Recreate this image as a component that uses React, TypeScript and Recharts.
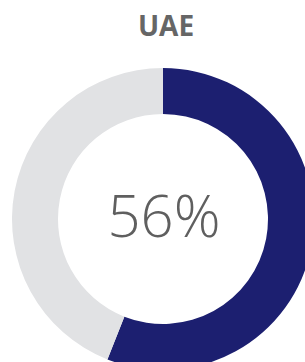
import { PieChart, Pie, Cell } from "recharts";

const title = "UAE";
const segments = ["UAE", "Rest"];
const values = [56, 44];
const COLORS = ["#1c1f70", "#e1e2e4"];

export default function App() {
  const data = segments.map((name, i) => ({ name, value: values[i] }));

  return (
    <div style={{ position: "absolute", left: 0, top: 0, width: 305, height: 362, overflow: "hidden", background: "#fff" }}>
      <PieChart width={305} height={362} margin={{ top: 0, right: 0, bottom: 0, left: 0 }}>
        <Pie
          data={data}
          dataKey="value"
          cx={163}
          cy={219}
          innerRadius={105}
          outerRadius={151}
          startAngle={90}
          endAngle={-270}
          stroke="none"
          isAnimationActive={false}
        >
          {data.map((_, i) => (
            <Cell key={`cell-${i}`} fill={COLORS[i]} />
          ))}
        </Pie>
      </PieChart>
      {/* title */}
      <div
        style={{
          position: "absolute",
          left: 0,
          top: 6,
          width: 332,
          textAlign: "center",
          fontFamily: "'Open Sans', sans-serif",
          fontWeight: 700,
          fontSize: 28,
          lineHeight: "normal",
          color: "#666666",
        }}
      >
        {title}
      </div>
      {/* center value */}
      <div
        style={{
          position: "absolute",
          left: 0,
          top: 175,
          width: 328,
          textAlign: "center",
          fontFamily: "'Open Sans', sans-serif",
          fontWeight: 300,
          fontSize: 58,
          lineHeight: "normal",
          color: "#5f5f5f",
        }}
      >
        {`${values[0]}%`}
      </div>
    </div>
  );
}
